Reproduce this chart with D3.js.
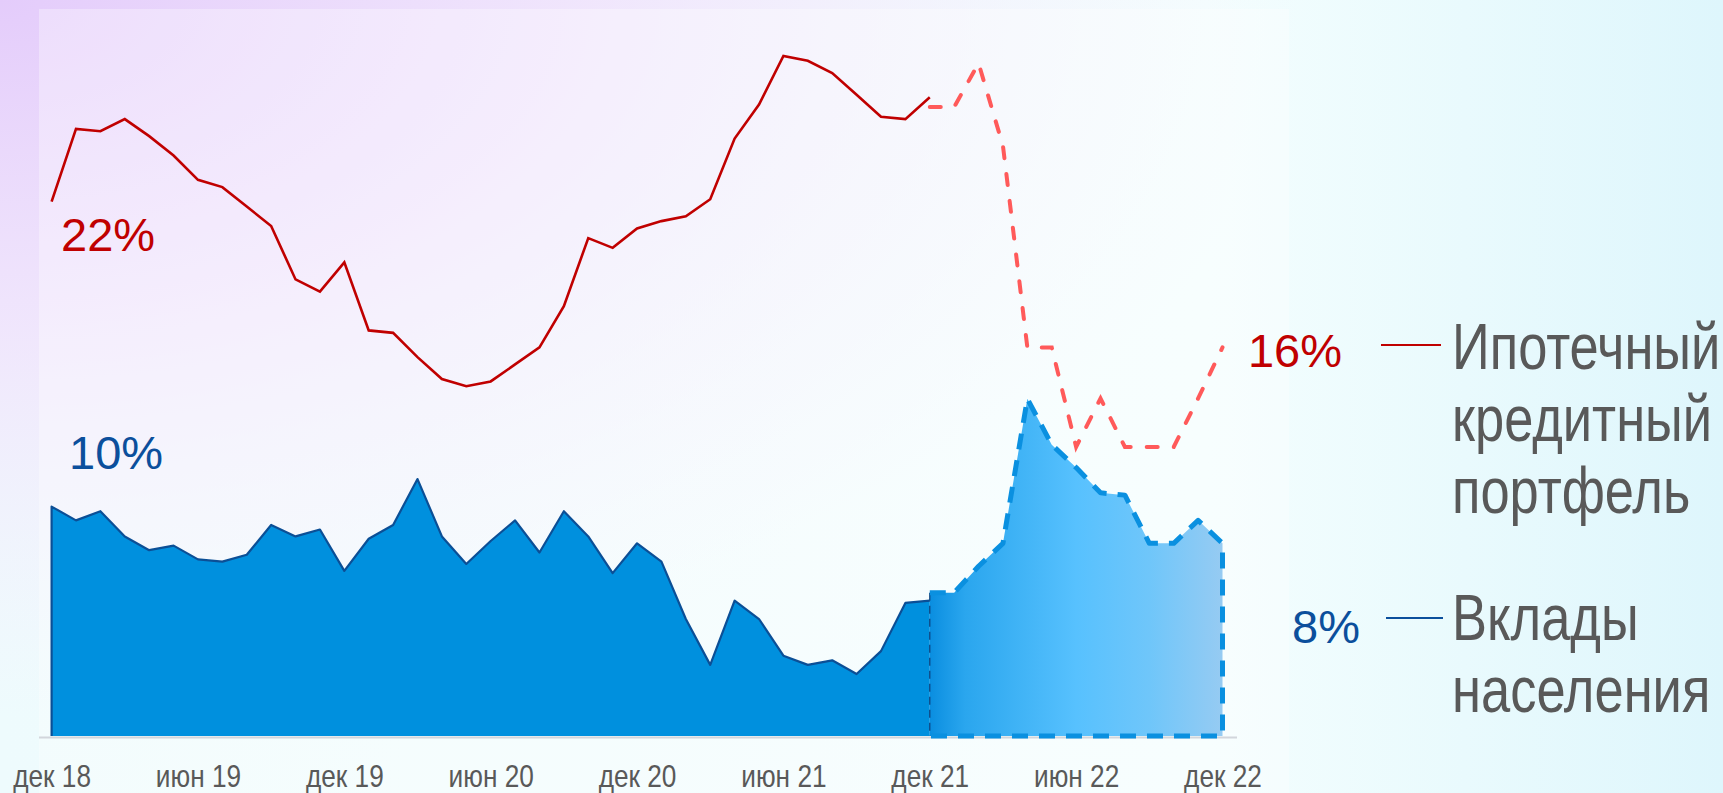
<!DOCTYPE html>
<html>
<head>
<meta charset="utf-8">
<script src="https://cdn.jsdelivr.net/npm/d3@7"></script>
<style>
  html, body { margin: 0; padding: 0; background: #f2fcfe; }
  svg { display: block; }
  .narrow { font-family: "Liberation Sans", Arial, sans-serif; }
  .reg { font-family: "Liberation Sans", Arial, sans-serif; }
</style>
</head>
<body>
<svg id="chart" width="1723" height="793"></svg>
<script>
// ---- data ----
const tickLabels = ["дек 18","июн 19","дек 19","июн 20","дек 20","июн 21","дек 21","июн 22","дек 22"];
const tickMonths = [0, 6, 12, 18, 24, 30, 36, 42, 48]; // month index from дек 18

// Ипотечный кредитный портфель, % г/г (факт: дек 18 – дек 21)
const mortgageActual = [22.0,25.0,24.9,25.4,24.7,23.9,22.9,22.6,21.8,21.0,18.8,18.3,19.5,16.7,16.6,15.6,14.7,14.4,14.6,15.3,16.0,17.7,20.5,20.1,20.9,21.2,21.4,22.1,24.6,26.0,28.0,27.8,27.3,26.4,25.5,25.4,26.3];
// прогноз/оценка: дек 21 – дек 22
const mortgageForecast = [25.9,25.9,27.7,24.3,16.0,16.0,11.9,13.9,11.9,11.9,11.9,13.9,16.0];

// Вклады населения, % г/г
const depositsActual = [10.0,9.4,9.8,8.7,8.1,8.3,7.7,7.6,7.9,9.2,8.7,9.0,7.2,8.6,9.2,11.2,8.7,7.5,8.5,9.4,8.0,9.8,8.7,7.1,8.4,7.6,5.1,3.1,5.9,5.1,3.5,3.1,3.3,2.7,3.7,5.8,5.9];
const depositsForecast = [6.25,6.25,7.4,8.4,14.7,12.7,11.7,10.6,10.5,8.4,8.4,9.4,8.4];

const forecastStart = 36;
const seriesNames = ["Ипотечный кредитный портфель", "Вклады населения"];
const legendLines = [["Ипотечный","кредитный","портфель"], ["Вклады","населения"]];
const startLabels = ["22%", "10%"];
const endLabels = ["16%", "8%"];

// ---- layout ----
const W = 1723, H = 793;
const NARROW = 0.82; // horizontal condensation (Arial Narrow look)
const svg = d3.select("#chart");
const defs = svg.append("defs");

// background gradients
const bgLin = defs.append("linearGradient").attr("id","bgLin")
  .attr("x1","0").attr("y1","0").attr("x2","1").attr("y2","0");
[["0%","#eefbfd"],["70%","#f4fefe"],["100%","#def6fc"]].forEach(s=>bgLin.append("stop").attr("offset",s[0]).attr("stop-color",s[1]));
const bgRad = defs.append("radialGradient").attr("id","bgRad")
  .attr("gradientUnits","userSpaceOnUse").attr("cx",0).attr("cy",0).attr("r",1300)
  .attr("gradientTransform","scale(1,0.55)");
[["0%","#e4ccfb",1],["45%","#f0e0fc",0.8],["100%","#f6ecfc",0]].forEach(s=>bgRad.append("stop").attr("offset",s[0]).attr("stop-color",s[1]).attr("stop-opacity",s[2]));

svg.append("rect").attr("width",W).attr("height",H).attr("fill","url(#bgLin)");
svg.append("rect").attr("width",W).attr("height",H).attr("fill","url(#bgRad)");
svg.append("rect").attr("x",39).attr("y",9).attr("width",1250).attr("height",H-9).attr("fill","#ffffff").attr("opacity",0.32);

// scales
const x = d3.scaleLinear().domain([0, 48]).range([51.6, 1222.5]);
const baseY = 736;
const yRed = d3.scaleLinear().domain([0, 22]).range([baseY, 201.7]);
const yBlue = d3.scaleLinear().domain([0, 10]).range([baseY, 506.6]);

const toPts = (arr, off) => arr.map((v, k) => ({ i: k + off, v }));
const mA = toPts(mortgageActual, 0), mF = toPts(mortgageForecast, forecastStart);
const dA = toPts(depositsActual, 0), dF = toPts(depositsForecast, forecastStart);

// forecast gradient
const fg = defs.append("linearGradient").attr("id","fcGrad")
  .attr("gradientUnits","userSpaceOnUse")
  .attr("x1", x(forecastStart)).attr("x2", x(48)).attr("y1",0).attr("y2",0);
[[0,"#0a8ee0"],[0.12,"#2aa6ee"],[0.5,"#57c1fe"],[0.75,"#6fc6fa"],[1,"#96cbf2"]].forEach(s=>fg.append("stop").attr("offset",s[0]).attr("stop-color",s[1]));

// areas
const areaBlue = d3.area().x(d => x(d.i)).y0(baseY).y1(d => yBlue(d.v));
const lineBlue = d3.line().x(d => x(d.i)).y(d => yBlue(d.v));
const lineRed = d3.line().x(d => x(d.i)).y(d => yRed(d.v));

svg.append("path").datum(dA).attr("d", areaBlue).attr("fill", "#0090de");
svg.append("path").datum(dF).attr("d", areaBlue).attr("fill", "url(#fcGrad)");

// solid outline: left edge + top line
svg.append("path")
  .attr("d", `M${x(0)},${baseY}L${x(0)},${yBlue(dA[0].v)}` + lineBlue(dA).replace(/^M/, "L"))
  .attr("fill","none").attr("stroke","#0b4f96").attr("stroke-width",2.2).attr("stroke-linejoin","round");

// thin dashed divider at forecast start
svg.append("line")
  .attr("x1", x(forecastStart)).attr("x2", x(forecastStart))
  .attr("y1", yBlue(dF[0].v)).attr("y2", baseY)
  .attr("stroke","#0b3f7a").attr("stroke-width",1.2).attr("stroke-dasharray","8,5");

// baseline
svg.append("line").attr("x1",39).attr("x2",1237).attr("y1",baseY+1.5).attr("y2",baseY+1.5)
  .attr("stroke","#d2d6dc").attr("stroke-width",2);

// forecast outline: top + right edge + bottom
const last = dF[dF.length-1];
svg.append("path")
  .attr("d", lineBlue(dF) + `L${x(last.i)},${baseY}L${x(forecastStart)},${baseY}`)
  .attr("fill","none").attr("stroke","#0a90e0").attr("stroke-width",5)
  .attr("stroke-dasharray","16,11").attr("stroke-linejoin","round");

// red lines
svg.append("path").datum(mA).attr("d", lineRed)
  .attr("fill","none").attr("stroke","#c00000").attr("stroke-width",2.6).attr("stroke-linejoin","miter");
svg.append("path").datum(mF).attr("d", lineRed)
  .attr("fill","none").attr("stroke","#ff5a5a").attr("stroke-width",4)
  .attr("stroke-dasharray","11,16").attr("stroke-linecap","round");

// x axis
const xAxis = d3.axisBottom(x).tickValues(tickMonths).tickSize(0)
  .tickFormat((d, k) => tickLabels[k]);
const gx = svg.append("g").attr("transform", `translate(0,${baseY})`).call(xAxis);
gx.select(".domain").remove();
gx.selectAll("text").attr("class","narrow").attr("dy",0).attr("y",0)
  .attr("transform", `translate(0,51) scale(0.86,1)`)
  .style("font-size","30.5px").attr("fill","#595959");

// value labels
const labelFont = "47px";
svg.append("text").attr("class","reg").attr("x",61).attr("y",251).text(startLabels[0])
  .attr("fill","#c00000").style("font-size",labelFont);
svg.append("text").attr("class","reg").attr("x",69).attr("y",469).text(startLabels[1])
  .attr("fill","#0b4f9c").style("font-size",labelFont);
svg.append("text").attr("class","reg").attr("x",1342).attr("y",367).attr("text-anchor","end").text(endLabels[0])
  .attr("fill","#c00000").style("font-size",labelFont);
svg.append("text").attr("class","reg").attr("x",1360).attr("y",643).attr("text-anchor","end").text(endLabels[1])
  .attr("fill","#0b4f9c").style("font-size",labelFont);

// legend
const legColors = ["#c00000", "#0b4f9c"];
const legLineX = [[1381,1441],[1386,1443]];
const legLineY = [345, 618];
const legTextY = [369, 640];
legendLines.forEach((lines, s) => {
  svg.append("line").attr("x1",legLineX[s][0]).attr("x2",legLineX[s][1])
    .attr("y1",legLineY[s]).attr("y2",legLineY[s]).attr("stroke",legColors[s]).attr("stroke-width",1.8);
  const g = svg.append("g").attr("transform", `translate(1452,0) scale(${NARROW},1)`);
  const t = g.append("text").attr("class","narrow").attr("x",0).attr("y",legTextY[s])
    .attr("fill","#595959").style("font-size","64px");
  lines.forEach((ln, k) => t.append("tspan").attr("x",0).attr("y", legTextY[s] + k*72).text(ln));
});
</script>
</body>
</html>
